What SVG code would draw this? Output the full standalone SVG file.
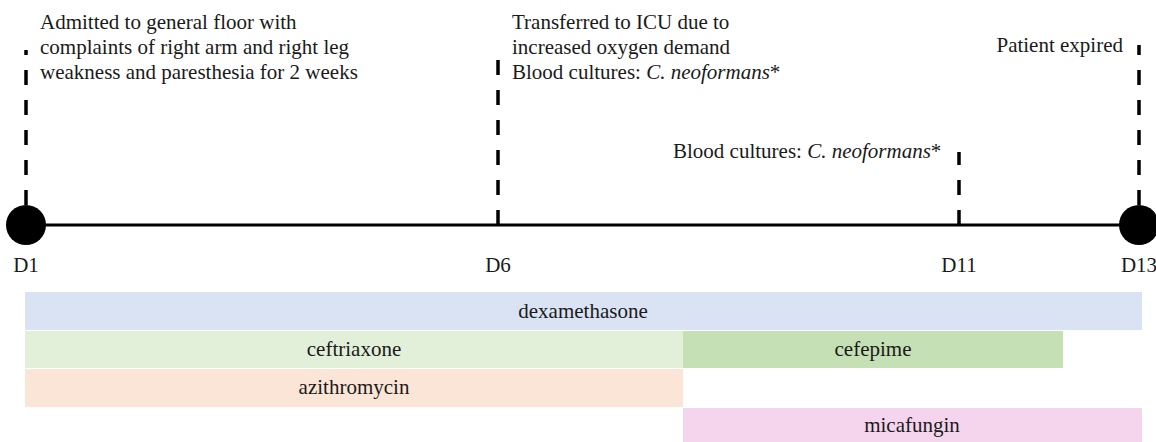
<svg xmlns="http://www.w3.org/2000/svg" width="1156" height="442" viewBox="0 0 1156 442">
<style>
.c{text-anchor:middle}
.dash{stroke:#000;stroke-width:3.5;stroke-dasharray:15 15;fill:none}
.axis{stroke:#000;stroke-width:3;fill:none}
</style>
<rect width="1156" height="442" fill="#fff"/>
<g id="connectors">
<line class="axis" x1="26" y1="225" x2="1139" y2="225"/>
<line class="dash" x1="26" y1="205" x2="26" y2="50"/>
<line class="dash" x1="498" y1="225" x2="498" y2="60"/>
<line class="dash" x1="959" y1="225" x2="959" y2="152"/>
<line class="dash" x1="1139" y1="205" x2="1139" y2="45"/>
</g>
<g font-family="Liberation Serif, Times New Roman, Times, serif" font-size="21" fill="#1a1a1a">
<g id="d1">
<circle cx="26" cy="225" r="20" fill="#000"/>
<text class="c" x="26" y="272">D1</text>
<text x="40" y="29">Admitted to general floor with</text>
<text x="40" y="54">complaints of right arm and right leg</text>
<text x="40" y="79">weakness and paresthesia for 2 weeks</text>
</g>
<g id="d6">
<text class="c" x="498" y="272">D6</text>
<text x="512" y="29">Transferred to ICU due to</text>
<text x="512" y="54">increased oxygen demand</text>
<text x="512" y="79">Blood cultures: <tspan font-style="italic">C. neoformans</tspan>*</text>
</g>
<g id="d11">
<text class="c" x="959" y="272">D11</text>
<text x="673" y="158">Blood cultures: <tspan font-style="italic">C. neoformans</tspan>*</text>
</g>
<g id="d13">
<circle cx="1139" cy="225" r="20" fill="#000"/>
<text class="c" x="1139" y="272">D13</text>
<text text-anchor="end" x="1123" y="52">Patient expired</text>
</g>
<g id="dexamethasone">
<rect x="25" y="292" width="1117" height="38" fill="#DAE3F3"/>
<text class="c" x="583" y="318">dexamethasone</text>
</g>
<g id="ceftriaxone">
<rect x="25" y="331" width="658" height="37" fill="#E2F0D9"/>
<text class="c" x="354" y="356">ceftriaxone</text>
</g>
<g id="cefepime">
<rect x="683" y="331" width="380" height="37" fill="#C5E0B4"/>
<text class="c" x="873" y="356">cefepime</text>
</g>
<g id="azithromycin">
<rect x="25" y="369" width="658" height="38" fill="#FBE5D6"/>
<text class="c" x="354" y="394">azithromycin</text>
</g>
<g id="micafungin">
<rect x="683" y="408" width="459" height="34" fill="#F5D5EE"/>
<text class="c" x="912" y="432">micafungin</text>
</g>
</g>
</svg>
